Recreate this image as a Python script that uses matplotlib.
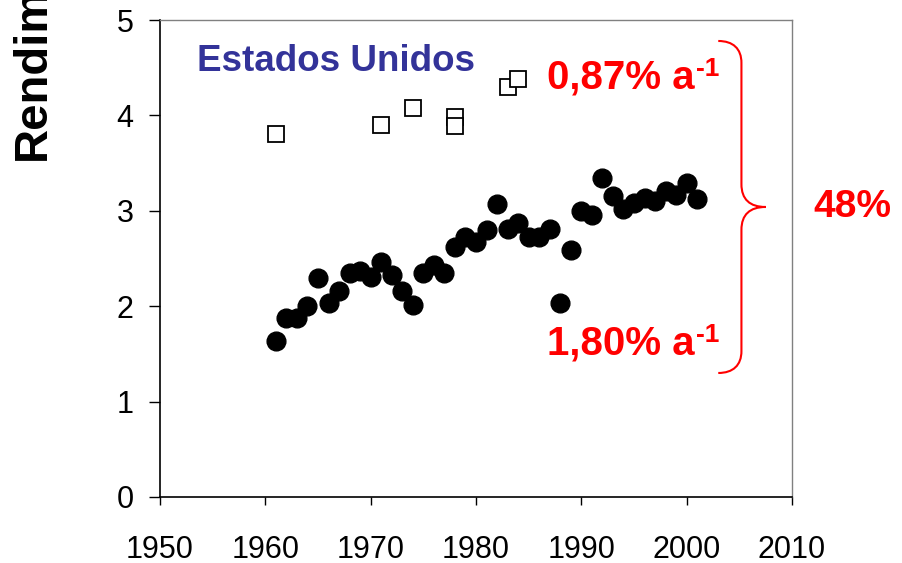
import matplotlib
matplotlib.use("Agg")
import matplotlib.pyplot as plt
from matplotlib.path import Path
from matplotlib.patches import PathPatch

# Données
anos = list(range(1961, 2002))
rendimento = [1.64, 1.88, 1.88, 2.00, 2.30, 2.03, 2.16, 2.35, 2.37, 2.31,
              2.46, 2.33, 2.16, 2.01, 2.35, 2.43, 2.35, 2.62, 2.73, 2.67,
              2.80, 3.07, 2.81, 2.87, 2.73, 2.73, 2.81, 2.03, 2.59, 3.00,
              2.96, 3.34, 3.16, 3.02, 3.08, 3.13, 3.10, 3.21, 3.17, 3.29,
              3.12]

anos_eua = [1961, 1971, 1974, 1978, 1978, 1983, 1984]
rendimento_eua = [3.80, 3.90, 4.08, 3.98, 3.89, 4.30, 4.38]

x_ticks = [1950, 1960, 1970, 1980, 1990, 2000, 2010]
y_ticks = [0, 1, 2, 3, 4, 5]

plt.rcParams['font.family'] = ['Liberation Sans', 'DejaVu Sans']

fig = plt.figure(figsize=(9.02, 5.63), dpi=100)
ax = fig.add_axes([160/902, 66/563, 632/902, 477/563])

ax.plot(anos, rendimento, 'o', color='black', markersize=13.5, linestyle='none')
ax.plot(anos_eua, rendimento_eua, 's', markerfacecolor='white', markeredgecolor='black',
        markersize=11.5, markeredgewidth=1.3, linestyle='none')

ax.set_xlim(1950, 2010)
ax.set_ylim(0, 5)
ax.set_xticks(x_ticks)
ax.set_yticks(y_ticks)
ax.tick_params(axis='x', direction='out', length=6, width=1, pad=21, labelsize=22)
ax.tick_params(axis='y', direction='out', length=8, width=1, pad=11, labelsize=22)

for s in ['left', 'bottom']:
    ax.spines[s].set_color('black')
    ax.spines[s].set_linewidth(1.2)
for s in ['top', 'right']:
    ax.spines[s].set_color('#808080')
    ax.spines[s].set_linewidth(1.0)

# Textes
ax.text(1953.5, 4.47, 'Estados Unidos', color='#333399', fontsize=26.5,
        fontweight='bold', ha='left', va='baseline')


def taux(x, y, texte):
    t = ax.text(x, y, texte, color='red', fontsize=29, fontweight='bold',
                ha='left', va='baseline')
    ax.annotate('-1', xy=(1, 1), xycoords=t, xytext=(1, 1), textcoords='offset points',
                color='red', fontsize=19, fontweight='bold', ha='left', va='top')


taux(1986.7, 4.28, '0,87% a')
taux(1986.7, 1.49, '1,80% a')

ax.text(2012.0, 2.93, '48%', color='red', fontsize=28,
        fontweight='bold', ha='left', va='baseline', clip_on=False)

# Accolade
verts = [(2003.0, 4.78),
         (2004.4, 4.78), (2005.2, 4.70), (2005.2, 4.55),
         (2005.2, 3.28),
         (2005.2, 3.12), (2006.0, 3.04), (2007.5, 3.04),
         (2006.0, 3.04), (2005.2, 2.96), (2005.2, 2.80),
         (2005.2, 1.53),
         (2005.2, 1.38), (2004.4, 1.30), (2003.0, 1.30)]
codes = [Path.MOVETO,
         Path.CURVE4, Path.CURVE4, Path.CURVE4,
         Path.LINETO,
         Path.CURVE4, Path.CURVE4, Path.CURVE4,
         Path.CURVE4, Path.CURVE4, Path.CURVE4,
         Path.LINETO,
         Path.CURVE4, Path.CURVE4, Path.CURVE4]
ax.add_patch(PathPatch(Path(verts, codes), facecolor='none', edgecolor='red', linewidth=1.5))

fig.text(33/902, 1 - 160/563, 'Rendim', rotation=90, fontsize=34, fontweight='bold',
         ha='center', va='bottom')

plt.savefig('out.png', dpi=100)
